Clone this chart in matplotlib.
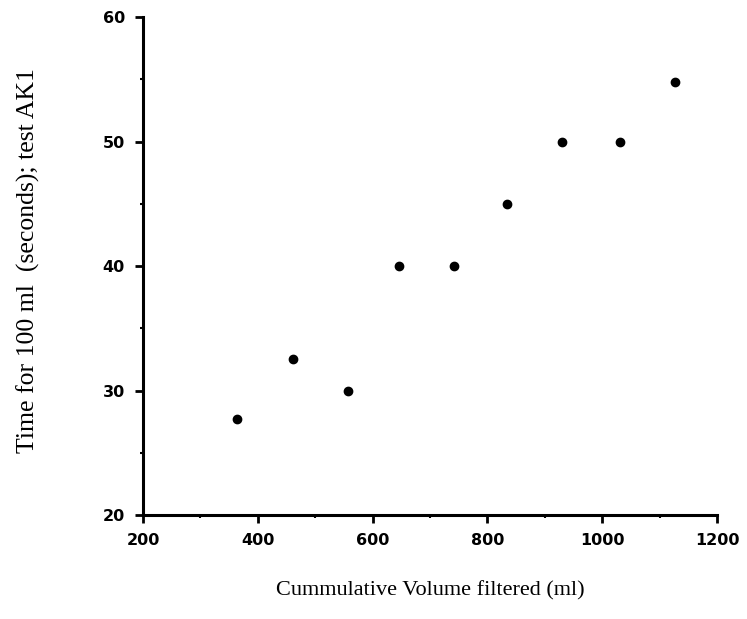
import matplotlib
matplotlib.use("Agg")
import matplotlib.pyplot as plt
from matplotlib.ticker import MultipleLocator

# cumulative volume filtered (ml) and time per 100 ml (s), test AK1
volume = [363, 462, 558, 646, 741, 835, 930, 1031, 1127]
time_s = [27.7, 32.5, 30.0, 40.0, 40.0, 45.0, 50.0, 50.0, 54.8]

fig = plt.figure(figsize=(7.47, 6.19), dpi=100)
ax = fig.add_axes([0.1914, 0.168, 0.7684, 0.8045])

ax.plot(volume, time_s, "o", color="black", markersize=6, linestyle="none")

ax.set_xlim(200, 1200)
ax.set_ylim(20, 60)
ax.xaxis.set_major_locator(MultipleLocator(200))
ax.xaxis.set_minor_locator(MultipleLocator(100))
ax.yaxis.set_major_locator(MultipleLocator(10))
ax.yaxis.set_minor_locator(MultipleLocator(5))

for s in ("top", "right"):
    ax.spines[s].set_visible(False)
for s in ("left", "bottom"):
    ax.spines[s].set_linewidth(2.2)

ax.tick_params(which="major", direction="out", length=6, width=2, pad=7)
ax.tick_params(which="minor", direction="out", length=2.5, width=1.5)
for lab in ax.get_xticklabels() + ax.get_yticklabels():
    lab.set_fontfamily("DejaVu Sans")
    lab.set_fontweight("bold")
    lab.set_fontsize(11.5)

fig.text(0.576, 0.03, "Cummulative Volume filtered (ml)", ha="center", va="bottom",
         family="Liberation Serif", fontsize=16)
fig.text(0.038, 0.579, "Time for 100 ml  (seconds); test AK1", ha="center", va="center",
         rotation=90, family="Liberation Serif", fontsize=18.5)

fig.savefig("out.png", dpi=100)
